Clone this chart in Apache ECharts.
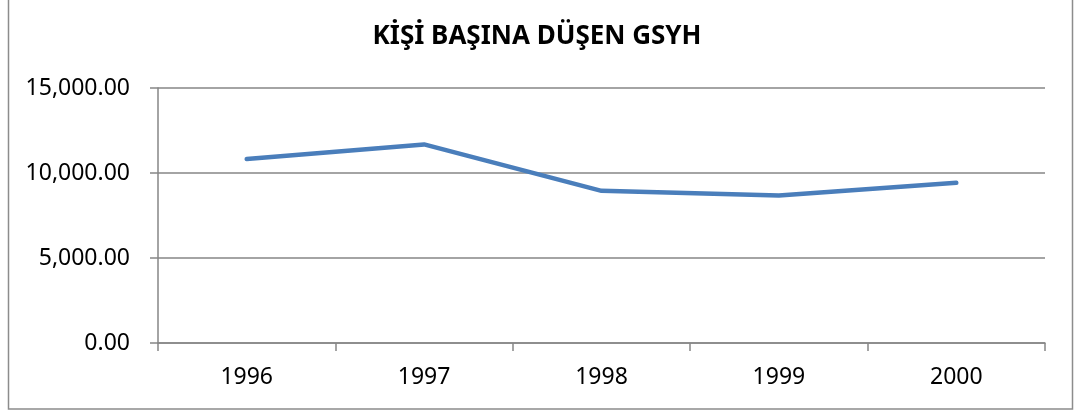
<!DOCTYPE html>
<html><head><meta charset="utf-8">
<script src="https://cdn.jsdelivr.net/npm/echarts@6/dist/echarts.min.js"></script>
<style>html,body{margin:0;padding:0;background:#fff}#c{width:1074px;height:414px}</style>
</head><body><div id="c"></div>
<script>
const title = 'KİŞİ BAŞINA DÜŞEN GSYH';
const years = ['1996', '1997', '1998', '1999', '2000'];
const gdpPerCapita = [10820, 11680, 8950, 8680, 9420];
const yMin = 0, yMax = 15000, yStep = 5000;

const chart = echarts.init(document.getElementById('c'));
const font = '"Noto Sans", sans-serif';
chart.setOption({
  animation: false,
  backgroundColor: '#fff',
  title: {
    text: title, left: 'center', top: 19,
    textStyle: { fontFamily: font, fontWeight: 'bold', fontSize: 26, color: '#000' }
  },
  graphic: [{
    type: 'rect', silent: true,
    shape: { x: 8.5, y: -2, width: 1064, height: 411 },
    style: { fill: 'none', stroke: '#8c8c8c', lineWidth: 1.5 }
  }],
  grid: { left: 158, right: 29, top: 88, bottom: 71 },
  xAxis: {
    type: 'category', data: years, boundaryGap: true,
    axisLine: { lineStyle: { color: '#868686', width: 1.5 } },
    axisTick: { show: true, length: 8, lineStyle: { color: '#868686', width: 1.5 } },
    axisLabel: { fontFamily: font, fontSize: 23, color: '#000', margin: 23 }
  },
  yAxis: {
    type: 'value', min: yMin, max: yMax, interval: yStep,
    axisLine: { show: true, lineStyle: { color: '#868686', width: 1.5 } },
    axisTick: { show: true, length: 8, lineStyle: { color: '#868686', width: 1.5 } },
    splitLine: { lineStyle: { color: '#868686', width: 1.5 } },
    axisLabel: {
      fontFamily: font, fontSize: 23, color: '#000', margin: 28,
      formatter: v => v.toLocaleString('en-US', { minimumFractionDigits: 2, maximumFractionDigits: 2 })
    }
  },
  series: [{
    type: 'line', data: gdpPerCapita, showSymbol: false, symbol: 'none',
    lineStyle: { color: '#4a7ebb', width: 4.5, cap: 'round', join: 'round' }
  }]
});
</script></body></html>
